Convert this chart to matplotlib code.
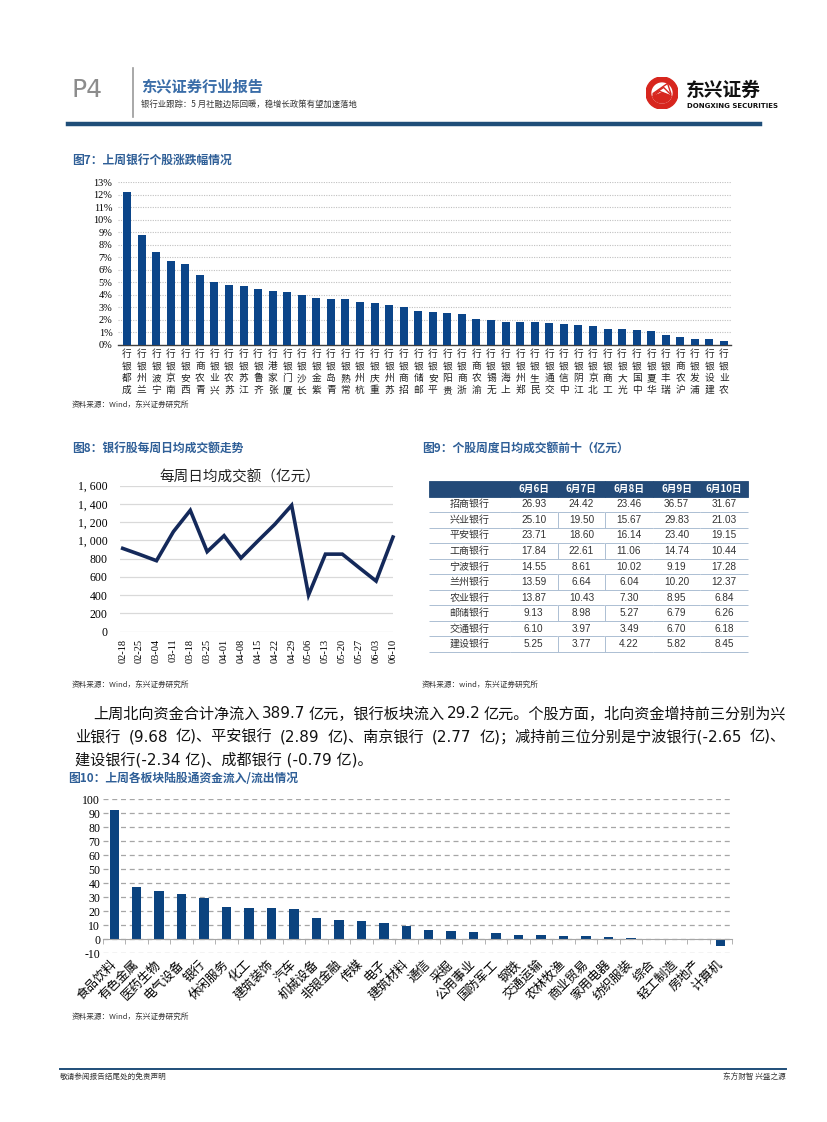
import matplotlib
matplotlib.use("Agg")
import matplotlib.pyplot as plt
from matplotlib.lines import Line2D
from matplotlib.patches import Circle, Wedge
import numpy as np

plt.rcParams['font.family'] = ['Noto Sans CJK SC', 'DejaVu Sans']

W, H = 827, 1122

# 图7 上周银行个股涨跌幅 (%)
bank_names = ['成都银行', '兰州银行', '宁波银行', '南京银行', '西安银行', '青农商行', '兴业银行',
              '苏农银行', '江苏银行', '齐鲁银行', '张家港行', '厦门银行', '长沙银行', '紫金银行',
              '青岛银行', '常熟银行', '杭州银行', '重庆银行', '苏州银行', '招商银行', '邮储银行',
              '平安银行', '贵阳银行', '浙商银行', '渝农商行', '无锡银行', '上海银行', '郑州银行',
              '民生银行', '交通银行', '中信银行', '江阴银行', '北京银行', '工商银行', '光大银行',
              '中国银行', '华夏银行', '瑞丰银行', '沪农商行', '浦发银行', '建设银行', '农业银行']
bank_chg = [12.2, 8.8, 7.45, 6.7, 6.45, 5.55, 5.02, 4.78, 4.7, 4.46, 4.27, 4.2, 3.96, 3.77,
            3.7, 3.7, 3.45, 3.34, 3.2, 3.04, 2.7, 2.67, 2.55, 2.47, 2.05, 1.97, 1.86, 1.86,
            1.86, 1.77, 1.68, 1.6, 1.53, 1.25, 1.25, 1.17, 1.1, 0.76, 0.61, 0.46, 0.46, 0.28]

# 图8 银行股每周日均成交额（亿元）
week_labels = ['02-18', '02-25', '03-04', '03-11', '03-18', '03-25', '04-01', '04-08', '04-15',
               '04-22', '04-29', '05-06', '05-13', '05-20', '05-27', '06-03', '06-10']
week_turnover = [913, 847, 778, 1096, 1330, 877, 1052, 807, 994, 1176, 1385, 402, 850, 850,
                 701, 555, 1037]

# 图9 个股周度日均成交额前十（亿元）
tbl_dates = ['6月6日', '6月7日', '6月8日', '6月9日', '6月10日']
tbl_banks = ['招商银行', '兴业银行', '平安银行', '工商银行', '宁波银行',
             '兰州银行', '农业银行', '邮储银行', '交通银行', '建设银行']
tbl_values = [['26.93', '24.42', '23.46', '36.57', '31.67'],
              ['25.10', '19.50', '15.67', '29.83', '21.03'],
              ['23.71', '18.60', '16.14', '23.40', '19.15'],
              ['17.84', '22.61', '11.06', '14.74', '10.44'],
              ['14.55', '8.61', '10.02', '9.19', '17.28'],
              ['13.59', '6.64', '6.04', '10.20', '12.37'],
              ['13.87', '10.43', '7.30', '8.95', '6.84'],
              ['9.13', '8.98', '5.27', '6.79', '6.26'],
              ['6.10', '3.97', '3.49', '6.70', '6.18'],
              ['5.25', '3.77', '4.22', '5.82', '8.45']]

# 图10 上周各板块陆股通资金流入/流出（亿元）
sectors = ['食品饮料', '有色金属', '医药生物', '电气设备', '银行', '休闲服务', '化工', '建筑装饰',
           '汽车', '机械设备', '非银金融', '传媒', '电子', '建筑材料', '通信', '采掘', '公用事业',
           '国防军工', '钢铁', '交通运输', '农林牧渔', '商业贸易', '家用电器', '纺织服装', '综合',
           '轻工制造', '房地产', '计算机']
sector_flow = [92.5, 36.8, 34.4, 32.3, 29.2, 22.6, 21.9, 21.9, 21.2, 15.2, 13.8, 13.1, 11.6,
               9.3, 6.2, 5.5, 4.8, 4.0, 2.6, 2.6, 1.9, 1.9, 1.2, 0.5, 0.3, -1.0, -1.0, -4.8]

# 正文
para = ['上周北向资金合计净流入 389.7 亿元，银行板块流入 29.2 亿元。个股方面，北向资金增持前三分别为兴',
        '业银行 (9.68 亿)、平安银行 (2.89 亿)、南京银行 (2.77 亿)；减持前三位分别是宁波银行(-2.65 亿)、',
        '建设银行(-2.34 亿)、成都银行 (-0.79 亿)。']

TITLE_BLUE = '#2f5f97'
SERIF = 'Liberation Serif'

fig = plt.figure(figsize=(W / 100, H / 100), dpi=100)
renderer = fig.canvas.get_renderer()


def fx(x):
    return x / W


def fy(y):
    return 1 - y / H


def ax_px(l, t, r, b):
    return fig.add_axes([fx(l), fy(b), (r - l) / W, (b - t) / H])


def ftext(x, y, s, **kw):
    return fig.text(fx(x), fy(y), s, **kw)


# ---------- page header ----------
ftext(71, 90, 'P4', fontsize=18, color='#8c8c8c', va='center', family=['DejaVu Sans'])
fig.add_artist(Line2D([fx(133), fx(133)], [fy(68), fy(117)], color='#9a9a9a', lw=1.2))
ftext(141, 87, '东兴证券行业报告', fontsize=11, fontweight='bold', color='#3a6da8', va='center')
ftext(141, 104, '银行业跟踪：5 月社融边际回暖，稳增长政策有望加速落地', fontsize=6, color='#333333', va='center')
fig.add_artist(Line2D([fx(68), fx(760)], [fy(124), fy(124)], color='#1f4e79', lw=3.2))

# logo
lax = ax_px(646, 77, 678, 109)
lax.set_xlim(-1, 1)
lax.set_ylim(-1, 1)
lax.set_aspect('equal')
lax.axis('off')
lax.add_patch(Circle((0, 0), 1, color='#d7261e'))
lax.add_patch(Circle((0, 0), 0.62, color='white'))
lax.add_patch(Wedge((0, 0), 0.62, 200, 340, color='#d7261e'))
for off in (-0.25, 0.0, 0.25):
    lax.plot([-0.55, 0.1 + off, 0.55], [-0.1 + off * 0.3, 0.35 + off, -0.1 + off * 0.3],
             color='#d7261e', lw=1.0)
ftext(686, 90, '东兴证券', fontsize=13.5, fontweight='bold', color='#111111', va='center')
ftext(687, 106, 'DONGXING SECURITIES', fontsize=5, fontweight='bold', color='#111111',
      va='center', family=['DejaVu Sans'])

# ---------- 图7 ----------
ftext(72, 160, '图7：上周银行个股涨跌幅情况', fontsize=8.5, fontweight='bold', color=TITLE_BLUE, va='center')
ax7 = ax_px(118, 182, 731, 345)
x7 = np.arange(len(bank_names))
ax7.bar(x7, bank_chg, width=0.55, color='#0b4589', zorder=3)
ax7.set_xlim(-0.62, len(x7) - 0.52)
ax7.set_ylim(0, 13)
ax7.set_yticks(range(14))
ax7.set_yticklabels([f'{v}%' for v in range(14)], fontfamily=SERIF, fontsize=7.5)
ax7.yaxis.grid(True, color='#c0c0c0', linestyle=(0, (1, 1.2)), linewidth=0.8, zorder=0)
for s in ['top', 'right', 'left']:
    ax7.spines[s].set_visible(False)
ax7.spines['bottom'].set_color('#404040')
ax7.spines['bottom'].set_linewidth(1.0)
ax7.set_xticks(x7)
# 竖排标签：字符自下而上
ax7.set_xticklabels(['\n'.join(n[::-1]) for n in bank_names], fontsize=7, linespacing=1.25,
                    color='#222222')
ax7.tick_params(axis='y', length=0, pad=4)
ax7.tick_params(axis='x', length=0, pad=3)
ftext(72, 405, '资料来源：Wind，东兴证券研究所', fontsize=5.5, color='#333333', va='center')

# ---------- 图8 ----------
ftext(72, 448, '图8：银行股每周日均成交额走势', fontsize=8.5, fontweight='bold', color=TITLE_BLUE, va='center')
ax8 = ax_px(120, 485.7, 393, 631.7)
x8 = np.arange(len(week_labels))
ax8.plot(x8, week_turnover, color='#14295a', lw=2.6, solid_joinstyle='miter', clip_on=False, zorder=3)
ax8.set_xlim(-0.16, len(x8) - 1)
ax8.set_ylim(0, 1600)
ax8.set_yticks(range(0, 1601, 200))
ax8.set_yticklabels([f'{v:,}'.replace(',', ', ') for v in range(0, 1601, 200)],
                    fontfamily=SERIF, fontsize=8.5)
ax8.yaxis.grid(True, color='#d9d9d9', linewidth=0.9, zorder=0)
for s in ax8.spines.values():
    s.set_visible(False)
ax8.set_xticks(x8)
ax8.set_xticklabels(week_labels, rotation=90, fontfamily=SERIF, fontsize=7.5)
ax8.tick_params(axis='y', length=0, pad=9)
ax8.tick_params(axis='x', length=0, pad=5)
ftext(240, 477, '每周日均成交额（亿元）', fontsize=10.5, color='#222222', ha='center', va='center')
ftext(72, 685, '资料来源：Wind，东兴证券研究所', fontsize=5.5, color='#333333', va='center')

# ---------- 图9 ----------
ftext(422, 448, '图9：个股周度日均成交额前十（亿元）', fontsize=8.5, fontweight='bold', color=TITLE_BLUE, va='center')
ax9 = ax_px(429, 481, 748, 652)
ax9.axis('off')
cells = [[b] + v for b, v in zip(tbl_banks, tbl_values)]
tbl = ax9.table(cellText=cells, colLabels=[''] + tbl_dates, bbox=[0, 0, 1, 1],
                colWidths=[81] + [47.6] * 5, cellLoc='center')
tbl.auto_set_font_size(False)
for (r, c), cell in tbl.get_celld().items():
    cell.set_linewidth(0.6)
    cell.set_edgecolor('#9fb4cc')
    if r == 0:
        cell.set_facecolor('#234a78')
        cell.set_edgecolor('#234a78')
        cell.get_text().set_color('white')
        cell.get_text().set_fontweight('bold')
        cell.get_text().set_fontsize(7)
        continue
    light = (r % 2 == 1)
    cell.set_facecolor('#dce6f2' if light else 'white')
    cell.visible_edges = 'BR' if (not light and c in (1, 2)) else 'B'
    t = cell.get_text()
    t.set_color('#333333')
    t.set_fontsize(7.2)
    if c > 0:
        t.set_fontfamily(['Liberation Sans'])
ftext(422, 685, '资料来源：wind，东兴证券研究所', fontsize=5.5, color='#333333', va='center')

# ---------- 正文 (前两行两端对齐) ----------
para_pos = [(93, 714), (75, 737), (75, 760)]
para_right = 786
para_kw = dict(fontsize=10.9, color='#111111', va='center', family=['DejaVu Sans', 'Noto Sans CJK SC'])
for i, (line, (px, py)) in enumerate(zip(para, para_pos)):
    if i == len(para) - 1:
        ftext(px, py, line, **para_kw)
        continue
    words = line.split(' ')
    objs = [ftext(px, py, w, **para_kw) for w in words]
    widths = [o.get_window_extent(renderer).width for o in objs]
    gap = (para_right - px - sum(widths)) / (len(words) - 1)
    cur = px
    for o, w in zip(objs, widths):
        o.set_x(fx(cur))
        cur += w + gap

# ---------- 图10 ----------
ftext(68, 779, '图10：上周各板块陆股通资金流入/流出情况', fontsize=8.5, fontweight='bold', color=TITLE_BLUE, va='center')
ax10 = ax_px(103, 799, 732, 953)
x10 = np.arange(len(sectors))
ax10.bar(x10, sector_flow, width=0.42, color='#0b437f', zorder=3)
ax10.set_xlim(-0.5, len(x10) - 0.5)
ax10.set_ylim(-10, 100)
ax10.set_yticks(range(-10, 101, 10))
ax10.set_yticklabels([str(v) for v in range(-10, 101, 10)], fontfamily=SERIF, fontsize=8.5)
ax10.yaxis.grid(True, color='#a6a6a6', linestyle=(0, (4, 3)), linewidth=0.9, zorder=0)
for s in ['top', 'right', 'left']:
    ax10.spines[s].set_visible(False)
ax10.spines['bottom'].set_position(('data', 0))
ax10.spines['bottom'].set_color('#a6a6a6')
ax10.spines['bottom'].set_zorder(4)
ax10.set_xticks(x10)
ax10.set_xticklabels(sectors, rotation=45, ha='right', va='center', rotation_mode='anchor', fontsize=9)
ax10.set_xticks(np.arange(-0.5, len(x10), 1), minor=True)
ax10.tick_params(axis='x', which='major', length=0, pad=17)
ax10.tick_params(axis='x', which='minor', length=3.5, color='#a6a6a6', direction='out')
ax10.tick_params(axis='y', length=0, pad=2)
ftext(72, 1017, '资料来源：Wind，东兴证券研究所', fontsize=5.5, color='#333333', va='center')

# ---------- footer ----------
fig.add_artist(Line2D([fx(60), fx(786)], [fy(1069), fy(1069)], color='#1f4e79', lw=1.4))
ftext(60, 1077, '敬请参阅报告结尾处的免责声明', fontsize=5.5, color='#333333', va='center')
ftext(786, 1077, '东方财智 兴盛之源', fontsize=5.5, color='#333333', va='center', ha='right')

fig.savefig('out.png', dpi=100)
